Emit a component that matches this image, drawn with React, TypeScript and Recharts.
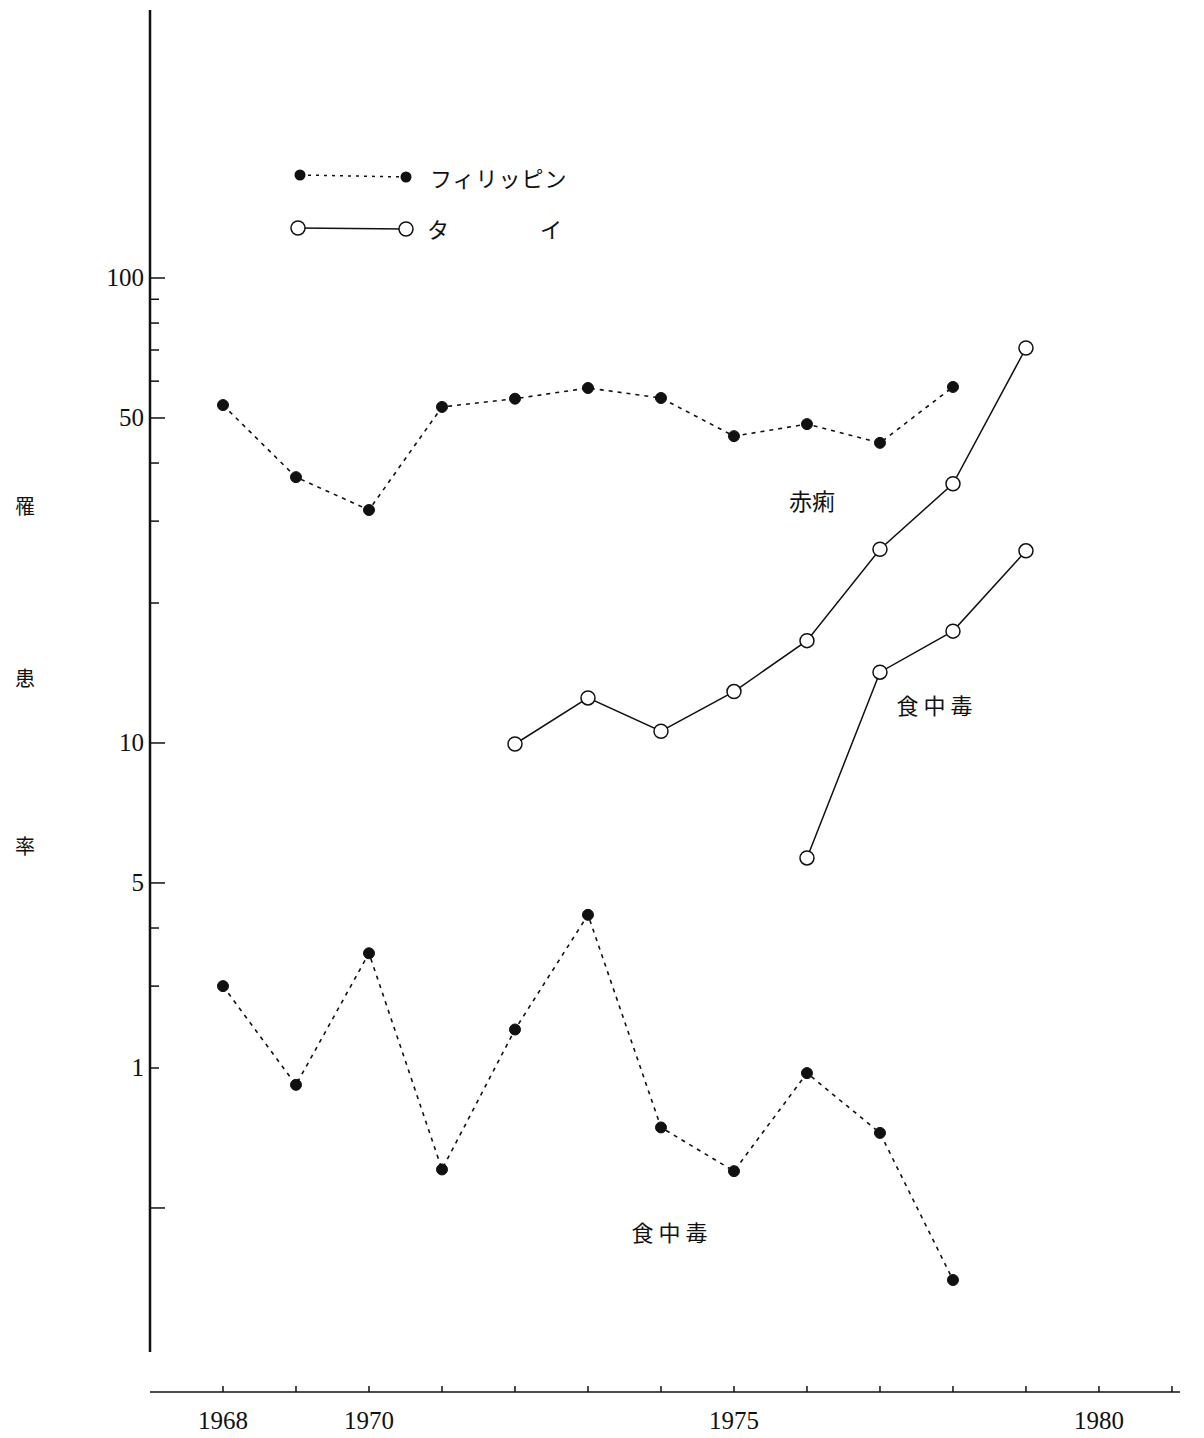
import React from 'react';
import { LineChart, Line, XAxis, YAxis, ReferenceLine } from 'recharts';

// years on the x axis
const years = [1968, 1969, 1970, 1971, 1972, 1973, 1974, 1975, 1976, 1977, 1978, 1979];

// 罹患率 (null = no data)
const phDysentery = [53.3, 37.3, 31.7, 52.8, 55.0, 58.0, 55.2, 45.7, 48.5, 44.2, 58.3, null];
const thDysentery = [null, null, null, null, 9.95, 12.5, 10.6, 12.9, 16.6, 26.1, 36.1, 70.7];
const thFoodPoison = [null, null, null, null, null, null, null, null, 5.66, 14.2, 17.4, 25.9];
const phFoodPoison = [3.0, 1.84, 3.53, 1.21, 2.42, 4.27, 1.49, 1.2, 1.95, 1.45, 0.7, null];

const yTicks = [100, 90, 80, 70, 60, 50, 40, 30, 20, 10, 5, 4, 3, 2, 1];
const yMajor = [100, 50, 10, 5, 1];
const yLabels: Record<number, string> = { 100: '100', 50: '50', 10: '10', 5: '5', 2: '1' };
const xTicks = [1968, 1969, 1970, 1971, 1972, 1973, 1974, 1975, 1976, 1977, 1978, 1979, 1980, 1981];
const xLabels = [1968, 1970, 1975, 1980];

const data = years.map((year, i) => ({
  year,
  phDys: phDysentery[i],
  thDys: thDysentery[i],
  thFood: thFoodPoison[i],
  phFood: phFoodPoison[i],
}));

const serif = '"Liberation Serif", "DejaVu Serif", serif';
const cjk = '"Noto Sans CJK JP", sans-serif';

const YTick = (props: any) => {
  const { x, y, payload } = props;
  const v = payload.value;
  const len = yMajor.includes(v) ? 15 : 9;
  return (
    <g>
      <line x1={x} y1={y} x2={x + len} y2={y} stroke="#111" strokeWidth={1.5} />
      {yLabels[v] && (
        <text x={x - 6} y={y} textAnchor="end" dominantBaseline="central" fontFamily={serif} fontSize={25} fill="#111">
          {yLabels[v]}
        </text>
      )}
    </g>
  );
};

const XTick = (props: any) => {
  const { x, y, payload } = props;
  const v = payload.value;
  return (
    <g>
      <line x1={x} y1={y} x2={x} y2={y - 6} stroke="#111" strokeWidth={1.5} />
      {xLabels.includes(v) && (
        <text x={x} y={y + 28} textAnchor="middle" dominantBaseline="central" fontFamily={serif} fontSize={25} fill="#111">
          {v}
        </text>
      )}
    </g>
  );
};

const filledDot = { r: 5.5, fill: '#111', stroke: '#111', strokeWidth: 1, strokeDasharray: '0' };
const openDot = { r: 7, fill: '#fff', stroke: '#111', strokeWidth: 1.5 };

export default function App() {
  return (
    <div style={{ position: 'absolute', left: 0, top: 0, width: 1204, height: 1438, background: '#fff' }}>
      <LineChart width={1204} height={1438} data={data} margin={{ top: 10, right: 24, bottom: 0, left: 0 }}>
        <XAxis
          dataKey="year"
          type="number"
          domain={[1967, 1981.11]}
          allowDataOverflow
          ticks={xTicks}
          interval={0}
          height={46}
          tickSize={0}
          tickMargin={0}
          tick={<XTick />}
          axisLine={{ stroke: '#111', strokeWidth: 1.5 }}
          tickLine={false}
        />
        <YAxis
          scale="log"
          type="number"
          domain={[0.402, 377]}
          allowDataOverflow
          ticks={yTicks}
          interval={0}
          width={150}
          tickSize={0}
          tickMargin={0}
          tick={<YTick />}
          axisLine={false}
          tickLine={false}
        />
        <ReferenceLine
          segment={[{ x: 1967, y: 377 }, { x: 1967, y: 0.49 }]}
          stroke="#111"
          strokeWidth={2.5}
          ifOverflow="visible"
        />
        <Line dataKey="phDys" stroke="#111" strokeWidth={1.6} strokeDasharray="4 5" dot={filledDot} isAnimationActive={false} />
        <Line dataKey="phFood" stroke="#111" strokeWidth={1.6} strokeDasharray="4 5" dot={filledDot} isAnimationActive={false} />
        <Line dataKey="thDys" stroke="#111" strokeWidth={1.5} dot={openDot} isAnimationActive={false} />
        <Line dataKey="thFood" stroke="#111" strokeWidth={1.5} dot={openDot} isAnimationActive={false} />
      </LineChart>

      <svg width={1204} height={1438} style={{ position: 'absolute', left: 0, top: 0, pointerEvents: 'none' }}>
        {/* legend */}
        <line x1={300} y1={175} x2={406} y2={177} stroke="#111" strokeWidth={1.5} strokeDasharray="3 5" />
        <circle cx={300} cy={175} r={5.5} fill="#111" />
        <circle cx={406} cy={177} r={5.5} fill="#111" />
        <text x={430} y={177} dominantBaseline="central" fontFamily={cjk} fontSize={22} fill="#111" letterSpacing={1}>
          フィリッピン
        </text>
        <line x1={298} y1={228} x2={406} y2={229} stroke="#111" strokeWidth={1.5} />
        <circle cx={298} cy={228} r={7} fill="#fff" stroke="#111" strokeWidth={1.5} />
        <circle cx={406} cy={229} r={7} fill="#fff" stroke="#111" strokeWidth={1.5} />
        <text x={438} y={228} textAnchor="middle" dominantBaseline="central" fontFamily={cjk} fontSize={22} fill="#111">タ</text>
        <text x={551} y={228} textAnchor="middle" dominantBaseline="central" fontFamily={cjk} fontSize={22} fill="#111">イ</text>

        {/* y axis title */}
        {[['罹', 505], ['患', 677], ['率', 845]].map(([c, y]) => (
          <text key={c as string} x={25} y={y as number} textAnchor="middle" dominantBaseline="central" fontFamily={cjk} fontSize={20} fill="#111">
            {c}
          </text>
        ))}

        {/* series notes */}
        <text x={812} y={500} textAnchor="middle" dominantBaseline="central" fontFamily={cjk} fontSize={23} fill="#111">赤痢</text>
        <text x={937} y={704} textAnchor="middle" dominantBaseline="central" fontFamily={cjk} fontSize={22} fill="#111" letterSpacing={5}>食中毒</text>
        <text x={672} y={1231} textAnchor="middle" dominantBaseline="central" fontFamily={cjk} fontSize={22} fill="#111" letterSpacing={5}>食中毒</text>
      </svg>
    </div>
  );
}
